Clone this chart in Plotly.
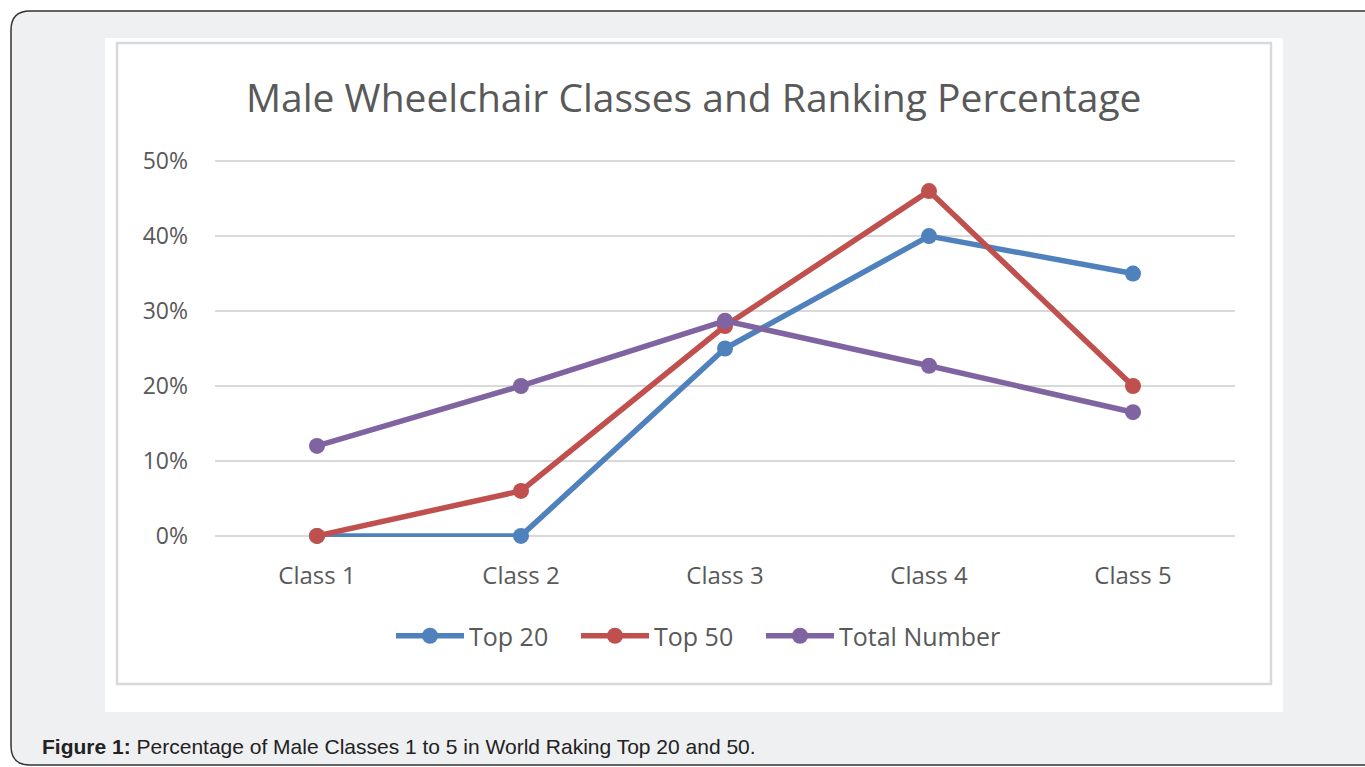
import plotly.graph_objects as go

categories = ["Class 1", "Class 2", "Class 3", "Class 4", "Class 5"]
top20 = [0, 0, 25, 40, 35]
top50 = [0, 6, 28, 46, 20]
total_number = [12, 20, 28.7, 22.7, 16.5]
y_ticks = [0, 10, 20, 30, 40, 50]
y_tick_labels = ["0%", "10%", "20%", "30%", "40%", "50%"]

W, H = 1365, 767
PL, PR, PT, PB = 215, 1235, 160, 537  # plot area in pixels
YR = [-0.15, 50.15]


def px(x):
    return (x - PL) / (PR - PL)


def py(y):
    return (PB - y) / (PB - PT)


fig = go.Figure()
series = [("Top 20", top20, "#4F81BD", "legend", 397),
          ("Top 50", top50, "#C0504D", "legend2", 582),
          ("Total Number", total_number, "#8064A2", "legend3", 767)]
legend_layouts = {}
for name, vals, col, leg, lx in series:
    fig.add_trace(go.Scatter(
        x=categories, y=vals, name=name, mode="lines+markers",
        line=dict(color=col, width=5.5), marker=dict(color=col, size=16),
        cliponaxis=False, legend=leg))
    legend_layouts[leg] = dict(
        orientation="h", x=px(lx - 6), y=py(636), xanchor="left", yanchor="middle",
        font=dict(size=25, color="#595959"), bgcolor="rgba(0,0,0,0)",
        itemwidth=68, tracegroupgap=0)

# outer rounded box
fig.add_shape(type="path", xref="paper", yref="paper",
              path=(f"M {px(11)},{py(30)} Q {px(11)},{py(11)} {px(30)},{py(11)} "
                    f"L {px(1385)},{py(11)} L {px(1385)},{py(765)} L {px(30)},{py(765)} "
                    f"Q {px(11)},{py(765)} {px(11)},{py(746)} Z"),
              fillcolor="#eff0f2", line=dict(color="#333333", width=1.5), layer="below")
# white image area
fig.add_shape(type="rect", xref="paper", yref="paper",
              x0=px(105), x1=px(1283), y0=py(38), y1=py(712),
              fillcolor="white", line=dict(width=0), layer="below")
# inner chart border
fig.add_shape(type="rect", xref="paper", yref="paper",
              x0=px(117), x1=px(1271), y0=py(43), y1=py(684),
              fillcolor="white", line=dict(color="#d9d9d9", width=2.5), layer="below")

fig.add_annotation(text="Male Wheelchair Classes and Ranking Percentage",
                   xref="paper", yref="paper", x=px(694), y=py(96),
                   xanchor="center", yanchor="middle", showarrow=False,
                   font=dict(family="Open Sans", size=39, color="#595959"))
fig.add_annotation(text="<b>Figure 1:</b> Percentage of Male Classes 1 to 5 in World Raking Top 20 and 50.",
                   xref="paper", yref="paper", x=px(40), y=py(746),
                   xanchor="left", yanchor="middle", showarrow=False,
                   font=dict(family="Liberation Sans", size=21, color="#222222"))

fig.update_layout(
    width=W, height=H, autosize=False,
    margin=dict(l=PL, r=W - PR, t=PT, b=H - PB, pad=0),
    paper_bgcolor="white", plot_bgcolor="rgba(0,0,0,0)",
    font=dict(family="Open Sans", color="#595959"),
    showlegend=True,
    xaxis=dict(type="category", range=[-0.5, 4.5], showgrid=False, zeroline=False,
               showline=False, ticks="", tickfont=dict(size=24, color="#595959"),
               ticklabelstandoff=22),
    yaxis=dict(range=YR, tickvals=y_ticks, ticktext=y_tick_labels, showgrid=True,
               gridcolor="#d9d9d9", gridwidth=2, zeroline=False, showline=False,
               ticks="", tickfont=dict(size=23, color="#595959"), ticklabelstandoff=26),
    **legend_layouts,
)

fig.write_html("out.html", config={"displayModeBar": False},
               post_script="document.body.style.margin='0';")
